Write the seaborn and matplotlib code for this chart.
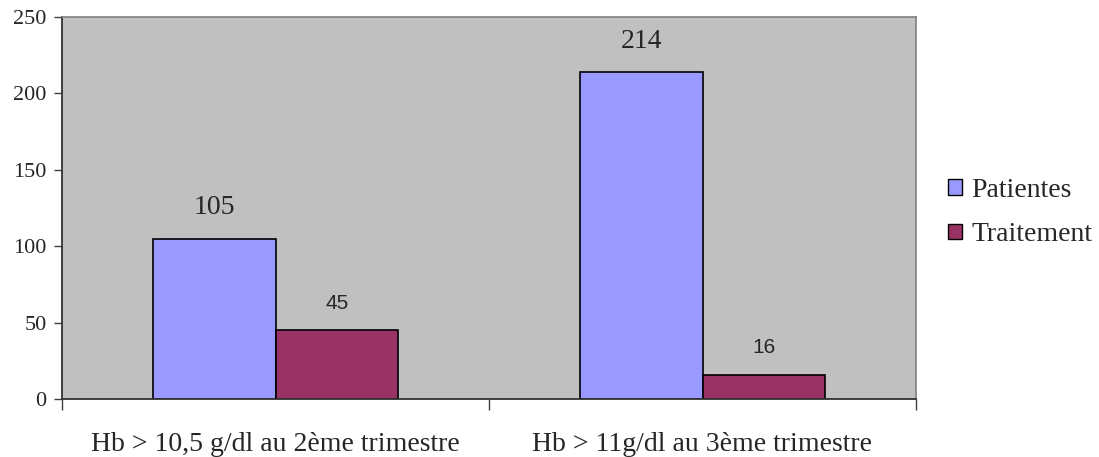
import matplotlib
matplotlib.use('Agg')
import matplotlib.pyplot as plt
import seaborn as sns
import pandas as pd
import numpy as np

# données
categories = ['Hb > 10,5 g/dl au 2ème trimestre', 'Hb > 11g/dl au 3ème trimestre']
series = ['Patientes', 'Traitement']
patientes = [105, 214]
traitement = [45, 16]
couleurs = ['#9999FF', '#993366']

df = pd.DataFrame({
    'categorie': categories * 2,
    'serie': [series[0]] * 2 + [series[1]] * 2,
    'valeur': patientes + traitement,
})

sns.set_theme(style='white')
plt.rcParams['font.family'] = ['Liberation Serif', 'DejaVu Serif']

fig = plt.figure(figsize=(10.99, 4.57), dpi=100)
ax = fig.add_axes([62 / 1099, 1 - 399 / 457, (916 - 62) / 1099, (399 - 17) / 457])

sns.barplot(data=df, x='categorie', y='valeur', hue='serie', order=categories,
            hue_order=series, palette=couleurs, width=0.576, saturation=1,
            edgecolor='black', linewidth=1.2, ax=ax)

ax.set_facecolor('#C0C0C0')
ax.set_xlim(-0.5, 1.5)
ax.set_ylim(0, 250)
ax.set_yticks(np.arange(0, 251, 50))
ax.set_xlabel('')
ax.set_ylabel('')

# étiquettes des valeurs
lab_serif = dict(family=['Liberation Serif'], fontsize=20)
lab_sans = dict(family=['Liberation Sans'], fontsize=15)
for cont, style, off in zip(ax.containers, [lab_serif, lab_sans], [31, 27]):
    for bar in cont:
        h = bar.get_height()
        ax.annotate(f'{h:.0f}', (bar.get_x() + bar.get_width() / 2, h),
                    xytext=(0, off * 0.72), textcoords='offset points',
                    ha='center', va='center', **style)

# axes
ax.tick_params(axis='y', which='major', length=6, width=1, color='#404040',
               labelsize=16, pad=5, left=True)
ax.tick_params(axis='x', which='major', length=0, labelsize=20, pad=24)
ax.set_xticks([-0.5, 0.5, 1.5], minor=True)
ax.tick_params(axis='x', which='minor', length=8, width=1, color='#404040',
               bottom=True, direction='out')
for s in ['left', 'bottom']:
    ax.spines[s].set_color('#333333')
    ax.spines[s].set_linewidth(1.3)
for s in ['top', 'right']:
    ax.spines[s].set_color('#808080')
    ax.spines[s].set_linewidth(1.2)

leg = ax.legend(loc='center left', bbox_to_anchor=(1.0375, 0.488), frameon=False,
                fontsize=20, handlelength=0.5, handleheight=0.5, borderpad=0,
                borderaxespad=0, handletextpad=0.35, labelspacing=0.7)
for h in leg.legend_handles:
    h.set_edgecolor('black')
    h.set_linewidth(1)

plt.savefig('out.png', dpi=100)
